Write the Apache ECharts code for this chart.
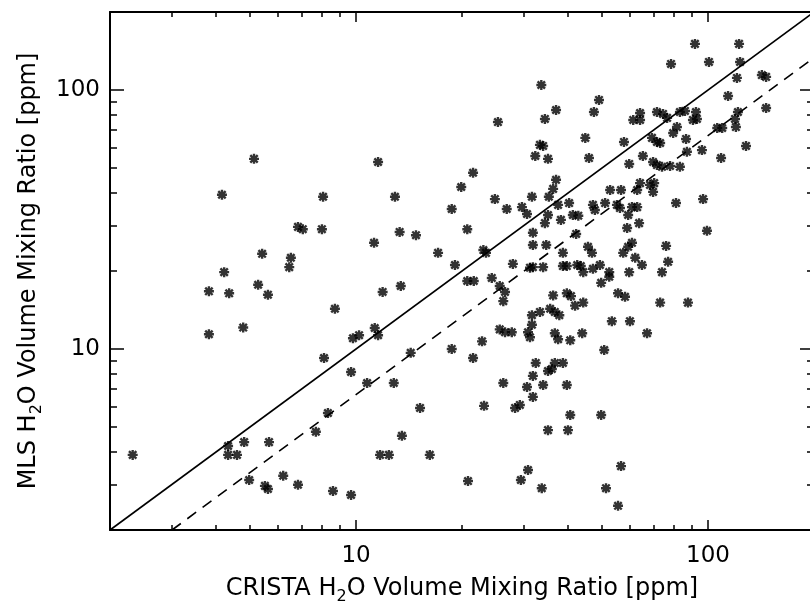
<!DOCTYPE html>
<html>
<head>
<meta charset="utf-8">
<script src="https://cdn.jsdelivr.net/npm/echarts@6/dist/echarts.min.js"></script>
<style>
  html, body { margin: 0; padding: 0; background: #fff; }
  #chart { width: 810px; height: 604px; }
</style>
</head>
<body>
<div id="chart"></div>
<script>
// CRISTA vs MLS water vapour volume mixing ratios [ppm], one entry per coincidence
const crista = [
  5.13, 4.16, 6.84, 7.06, 5.41, 6.53, 6.46, 4.22, 3.82, 4.36, 5.27, 5.62, 3.82, 4.78,
  2.32, 4.33, 4.33, 4.59, 4.81, 5.66, 4.97, 5.51, 5.62, 6.21, 6.84,
  8.06, 12.9, 11.55, 8.0, 11.25, 13.3, 14.8, 11.9, 13.4, 17.1, 8.71, 9.8, 10.2, 11.3,
  11.55, 8.11, 9.68, 10.75, 12.8, 14.3, 8.32, 7.69, 15.2, 13.5, 11.7, 12.4, 16.2, 8.6, 9.68,
  33.6, 37.0, 34.4, 25.3, 33.3, 34.0, 32.3, 35.1, 21.5, 19.9, 37.0, 36.3, 35.3, 31.6,
  24.8, 26.8, 29.6, 18.7, 37.5, 40.3, 30.6, 35.1, 34.4, 38.2, 41.3, 42.8, 20.7, 31.8,
  31.8, 34.7, 42.2, 23.0, 23.4, 19.1, 27.9, 31.2, 31.8, 34.0, 38.7, 38.7, 39.7, 42.5,
  24.3, 25.6, 26.5, 26.2, 20.7, 21.6, 36.3, 39.7, 40.8, 41.9, 44.2, 31.6, 33.3, 35.6,
  36.7, 37.8, 25.6, 26.5, 27.7, 30.8, 31.6, 31.2, 36.7, 37.5, 40.6, 22.8, 18.7, 21.5,
  32.4, 35.1, 36.0, 36.7, 38.7, 31.8, 26.2, 30.6, 34.0, 39.7, 31.8, 23.1, 28.3, 29.2,
  40.6, 35.1, 40.0, 20.8, 29.4, 30.8, 33.7,
  50.7, 49.7, 56.6, 51.3, 55.5, 47.1, 47.7, 51.0, 55.1, 56.2, 60.8, 62.9, 81.1, 96.8,
  59.3, 58.9, 63.7, 99.3, 45.6, 46.8, 60.8, 59.3, 57.4, 76.0, 62.1, 64.9, 77.0, 74.0,
  43.5, 44.2, 47.1, 49.3, 52.4, 52.4, 59.7, 49.7, 55.5, 58.1, 73.1, 87.7, 53.3, 60.0,
  43.9, 67.1,
  91.8, 122.5, 78.5, 100.6, 123.3, 120.8, 114, 49.0, 47.4, 64.1, 61.3, 64.1, 71.6, 74.5,
  76.5, 83.2, 86.0, 92.4, 90.6, 93.0, 121.6, 119.3, 120, 81.6, 79.6, 44.8, 57.7, 69.3,
  71.6, 73.1, 86.6, 106.2, 109.7, 128.2, 45.9, 59.7, 65.3, 69.8, 71.6, 74.0, 78.0, 83.2,
  87.1, 96.1, 108.9, 52.7, 56.6, 64.1, 62.9, 68.4, 70.3, 69.8, 142.2, 146.2, 146.2
];
const mls = [
  54.2, 39.4, 29.6, 29.0, 23.3, 22.5, 20.7, 19.8, 16.7, 16.4, 17.7, 16.2, 11.4, 12.1,
  3.90, 4.22, 3.90, 3.90, 4.37, 4.37, 3.12, 2.96, 2.88, 3.24, 2.99,
  38.7, 38.7, 52.7, 29.0, 25.7, 28.3, 27.5, 16.6, 17.5, 23.5, 14.3, 11.0, 11.3, 12.05,
  11.3, 9.23, 8.15, 7.39, 7.39, 9.66, 5.66, 4.79, 5.92, 4.62, 3.90, 3.90, 3.90, 2.83, 2.73,
  104.5, 83.7, 77.3, 75.2, 61.4, 60.8, 55.6, 54.2, 47.9, 42.2, 45.0, 41.5, 38.7, 38.7,
  37.9, 34.7, 35.3, 34.7, 36.0, 36.6, 33.2, 32.9, 30.6, 31.5, 32.9, 32.7, 29.0, 28.1,
  25.2, 25.2, 27.8, 24.1, 23.5, 21.1, 21.3, 20.6, 20.7, 20.7, 23.5, 20.9, 20.9, 21.1,
  18.8, 17.5, 16.6, 15.3, 18.3, 18.3, 16.1, 16.4, 16.0, 14.7, 15.1, 13.5, 13.9, 14.3,
  13.9, 13.5, 11.9, 11.6, 11.6, 11.6, 12.4, 11.1, 11.5, 10.9, 10.8, 10.7, 10.0, 9.23,
  8.83, 8.22, 8.37, 8.83, 8.83, 7.87, 7.39, 7.13, 7.26, 7.26, 6.53, 6.03, 5.92, 6.08,
  5.56, 4.86, 4.86, 3.09, 3.12, 3.41, 2.90,
  9.91, 5.56, 3.53, 2.90, 2.48, 36.0, 34.4, 36.6, 36.0, 35.0, 35.3, 35.3, 36.6, 37.9,
  32.9, 29.3, 30.6, 28.6, 24.8, 23.5, 25.7, 24.8, 23.5, 25.0, 22.5, 21.1, 21.7, 19.8,
  20.9, 19.8, 20.4, 21.1, 19.8, 19.0, 19.8, 18.0, 16.4, 15.9, 15.1, 15.1, 12.8, 12.8,
  11.5, 11.5,
  150.6, 150.6, 126, 128.3, 128.3, 111.3, 94.8, 91.5, 82.2, 81.5, 76.6, 76.6, 82.2, 80.8,
  78.0, 82.2, 83.0, 82.2, 76.6, 77.3, 82.2, 77.3, 71.9, 71.9, 68.2, 65.3, 63.0, 65.3,
  63.0, 62.4, 64.7, 71.3, 71.3, 60.8, 54.6, 51.8, 55.6, 52.7, 51.3, 50.5, 50.9, 50.5,
  57.7, 58.6, 54.6, 41.1, 41.1, 43.7, 41.1, 43.0, 43.7, 40.4, 114.2, 112.3, 85.2
];

// Reference lines: 1:1 and MLS = CRISTA / 1.5
const oneToOne = [[2, 2], [200, 200]];
const ratioLine = [[3, 2], [200, 133.3]];

// Axis range and tick values
const axisRange = [2, 200];
const majorTicks = [10, 100];
const minorTicks = [3, 4, 5, 6, 7, 8, 9, 20, 30, 40, 50, 60, 70, 80, 90];

const FONT = 'DejaVu Sans';
const points = crista.map((c, i) => [c, mls[i]]);

// asterisk marker drawn as stroked + and x arms
const asterisk = 'path://M5,0L5,10M0,5L10,5M1.3,1.3L8.7,8.7M8.7,1.3L1.3,8.7';

const nameStyle = {
  fontFamily: FONT, fontSize: 24, color: '#000', lineHeight: 32,
  rich: { sub: { fontFamily: FONT, fontSize: 16, color: '#000', lineHeight: 16, verticalAlign: 'bottom' } }
};

function logAxis(position, ticks, tickLen, extra) {
  return Object.assign({
    type: 'log', logBase: 10, min: axisRange[0], max: axisRange[1],
    position: position,
    axisLine: { show: false, onZero: false },
    axisTick: { show: true, inside: true, length: tickLen, customValues: ticks,
                lineStyle: { color: '#000', width: 1.5 } },
    axisLabel: { show: false },
    splitLine: { show: false },
    minorTick: { show: false },
    minorSplitLine: { show: false }
  }, extra || {});
}

const frameLine = { show: true, onZero: false, lineStyle: { color: '#000', width: 2 } };
const tickLabel = { show: true, customValues: majorTicks, fontFamily: FONT, fontSize: 23, color: '#000' };

const chart = echarts.init(document.getElementById('chart'), null, { renderer: 'canvas' });
chart.setOption({
  animation: false,
  backgroundColor: '#fff',
  grid: { left: 110, top: 12, right: -4, bottom: 74, containLabel: false, outerBoundsMode: 'none' },
  xAxis: [
    logAxis('bottom', majorTicks, 10, {
      axisLine: frameLine,
      axisLabel: Object.assign({ margin: 15 }, tickLabel),
      name: 'CRISTA H{sub|2}O Volume Mixing Ratio [ppm]',
      nameLocation: 'middle', nameGap: 42, nameTextStyle: nameStyle
    }),
    logAxis('bottom', minorTicks, 5),
    logAxis('top', majorTicks, 10, { axisLine: frameLine }),
    logAxis('top', minorTicks, 5)
  ],
  yAxis: [
    logAxis('left', majorTicks, 14, {
      axisLine: frameLine,
      axisLabel: Object.assign({ margin: 10 }, tickLabel),
      name: 'MLS H{sub|2}O Volume Mixing Ratio [ppm]',
      nameLocation: 'middle', nameGap: 64, nameRotate: 90, nameTextStyle: nameStyle
    }),
    logAxis('left', minorTicks, 7),
    logAxis('right', majorTicks, 14, { axisLine: frameLine }),
    logAxis('right', minorTicks, 7)
  ],
  series: [
    {
      type: 'line', data: oneToOne, xAxisIndex: 0, yAxisIndex: 0,
      showSymbol: false, symbol: 'none', silent: true,
      lineStyle: { color: '#000', width: 1.6 }
    },
    {
      type: 'line', data: ratioLine, xAxisIndex: 0, yAxisIndex: 0,
      showSymbol: false, symbol: 'none', silent: true,
      lineStyle: { color: '#000', width: 1.6, type: [11, 8] }
    },
    {
      type: 'scatter', data: points, xAxisIndex: 0, yAxisIndex: 0,
      symbol: asterisk, symbolSize: 10,
      itemStyle: { color: 'none', borderColor: '#000', borderWidth: 2.4 }
    }
  ]
});
</script>
</body>
</html>
